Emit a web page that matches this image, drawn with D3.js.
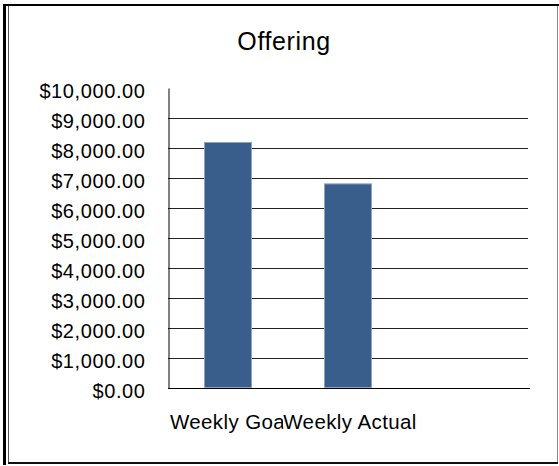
<!DOCTYPE html>
<html lang="en">
<head>
  <meta charset="utf-8">
  <title>Offering</title>
  <script type="text/javascript" src="https://d3js.org/d3.v7.min.js"></script>
  <style type="text/css">
    body { margin: 0; background: #fff; }
    text { font-family: "Liberation Sans", Arial, sans-serif; fill: #000; }
  </style>
</head>
<body>
  <script type="text/javascript">
    // chart values
    var categories = ["Weekly Goal", "Weekly Actual", ""];
    var offering = [8200, 6820, null];
    var tickValues = [0, 1000, 2000, 3000, 4000, 5000, 6000, 7000, 8000, 9000, 10000];

    var width = 559, height = 466;
    var fmt = d3.format("$,.2f");

    var svg = d3.select("body")
      .append("svg")
      .attr("width", width)
      .attr("height", height);

    // frame around the chart
    var frame = svg.append("g").attr("class", "frame");
    frame.append("rect").attr("x", 3).attr("y", 4).attr("width", 556).attr("height", 2).attr("fill", "#000");
    frame.append("rect").attr("x", 3).attr("y", 4).attr("width", 3).attr("height", 461).attr("fill", "#000");
    frame.append("rect").attr("x", 8).attr("y", 6).attr("width", 1).attr("height", 456).attr("fill", "#555");
    frame.append("rect").attr("x", 557).attr("y", 6).attr("width", 1).attr("height", 456).attr("fill", "#888");
    frame.append("rect").attr("x", 8).attr("y", 462).attr("width", 550).attr("height", 2).attr("fill", "#111");

    // scales
    var x = d3.scaleBand()
      .domain(categories)
      .range([168, 528])
      .paddingInner(0.6)
      .paddingOuter(0.3);

    var y = d3.scaleLinear()
      .domain([0, 10000])
      .range([388, 88]);

    // gridlines (not at the top value)
    svg.append("g")
      .selectAll("line")
      .data(tickValues.filter(function(d) { return d > 0 && d < 10000; }))
      .enter()
      .append("line")
      .attr("x1", 168)
      .attr("x2", 528)
      .attr("y1", function(d) { return Math.round(y(d)) + 0.5; })
      .attr("y2", function(d) { return Math.round(y(d)) + 0.5; })
      .attr("stroke", "#222")
      .attr("stroke-width", 1);

    // bars
    svg.append("g")
      .selectAll("rect")
      .data(categories.map(function(c, i) { return { name: c, value: offering[i] }; })
        .filter(function(d) { return d.value != null; }))
      .enter()
      .append("rect")
      .attr("x", function(d) { return x(d.name) + 0.5; })
      .attr("y", function(d) { return y(d.value) + 0.5; })
      .attr("width", x.bandwidth() - 1)
      .attr("height", function(d) { return y(0) - y(d.value) - 1; })
      .attr("fill", "#3a5e8c")
      .attr("stroke", "#8ea3c2")
      .attr("stroke-width", 1);

    // y axis
    var yAxis = svg.append("g")
      .attr("transform", "translate(168.5,0)")
      .call(d3.axisLeft(y).tickValues(tickValues).tickSize(0).tickPadding(23).tickFormat(fmt));
    yAxis.select(".domain").attr("stroke", "#000");
    yAxis.selectAll("text")
      .attr("font-size", "20px")
      .attr("letter-spacing", "0.6px")
      .attr("font-family", "Liberation Sans, Arial, sans-serif")
      .attr("dy", "0.48em");

    // x axis line
    svg.append("line")
      .attr("x1", 168).attr("x2", 530)
      .attr("y1", Math.round(y(0)) + 0.5).attr("y2", Math.round(y(0)) + 0.5)
      .attr("stroke", "#000");

    // category labels; the second one covers the end of the first
    var labels = svg.append("g");
    categories.forEach(function(c) {
      if (!c) return;
      var cx = x(c) + x.bandwidth() / 2;
      var bg = labels.append("rect").attr("fill", "#fff");
      var t = labels.append("text")
        .attr("x", cx + 2)
        .attr("y", 429)
        .attr("text-anchor", "middle")
        .attr("font-size", "20.5px")
        .attr("letter-spacing", "0.4px")
        .text(c);
      var b = t.node().getBBox();
      bg.attr("x", b.x).attr("y", b.y).attr("width", b.width).attr("height", b.height);
    });

    // title
    svg.append("text")
      .attr("x", 284)
      .attr("y", 50)
      .attr("text-anchor", "middle")
      .attr("font-size", "25px")
      .attr("letter-spacing", "0.6px")
      .text("Offering");
  </script>
</body>
</html>
